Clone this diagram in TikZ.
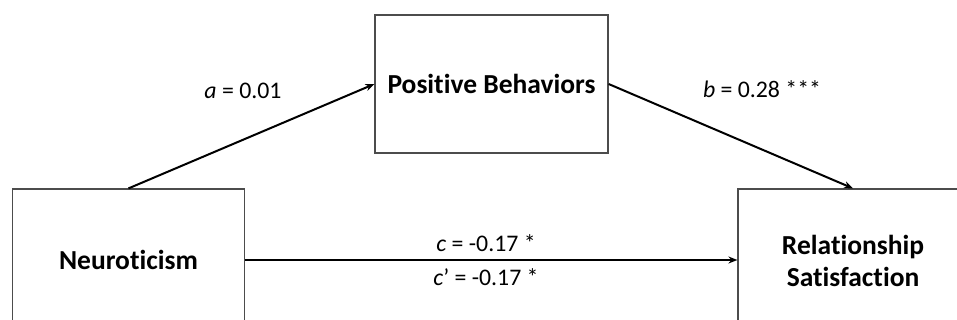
\documentclass[tikz,border=0pt]{standalone}
\usepackage{fontspec}
\setmainfont[Ligatures=NoCommon]{Carlito}
\usetikzlibrary{arrows.meta}
\tikzset{
  box/.style={draw=black!70, line width=1.2pt, rectangle, inner sep=0pt, align=center, font=\fontsize{27.5}{32}\selectfont\bfseries},
  arr/.style={line width=2pt, -{Stealth[length=9pt,width=7pt]}},
  lab/.style={inner sep=0pt, font=\fontsize{23.8}{28}\selectfont}
}
\begin{document}
\begin{tikzpicture}[x=1pt,y=-1pt]
\clip (0,0) rectangle (957,320);
\fill[white] (0,0) rectangle (957,320);
\node[box, minimum width=232pt, minimum height=142pt] (neu) at (128.5,260) {Neuroticism};
\node[box, minimum width=233pt, minimum height=138pt] (pb) at (491.5,84) {Positive Behaviors};
\node[box, minimum width=230pt, minimum height=144pt] (rs) at (853,261) {Relationship\\Satisfaction};
\draw[arr] (neu.north) -- (pb.west);
\draw[arr] (pb.east) -- (rs.north);
\draw[arr] (neu.east) -- (rs.west |- neu.east);
\node[lab] (la) at (243,91) {\textit{a} = 0.01};
\node[lab] (lb) at (762,89) {\textit{b} = 0.28 ***};
\node[lab] (lc) at (486,243) {\textit{c} = -0.17 *};
\node[lab] (lc2) at (486,277) {\textit{c}’ = -0.17 *};
\end{tikzpicture}
\end{document}
